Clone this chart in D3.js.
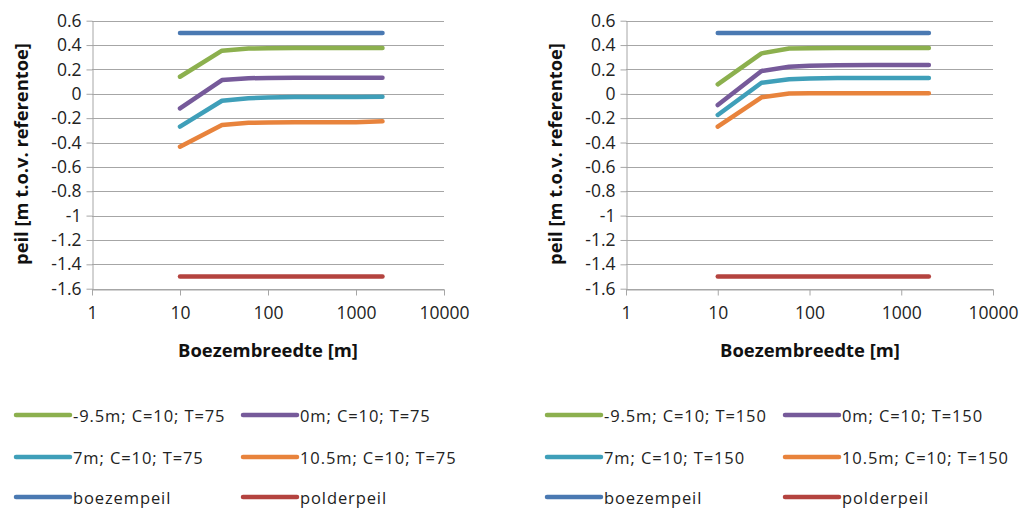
<!DOCTYPE html>
<html><head><meta charset="utf-8">
<script src="https://cdn.jsdelivr.net/npm/d3@7"></script>
<style>body{margin:0;background:#fff}svg{display:block}</style>
</head><body>
<svg id="c" width="1023" height="509"></svg>
<script>
const xValues = [10, 30, 60, 100, 200, 500, 1000, 2000];
const yTicks = [0.6, 0.4, 0.2, 0, -0.2, -0.4, -0.6, -0.8, -1, -1.2, -1.4, -1.6];
const xTicks = [1, 10, 100, 1000, 10000];
const seriesNames75 = ["-9.5m; C=10; T=75", "0m; C=10; T=75", "7m; C=10; T=75", "10.5m; C=10; T=75", "boezempeil", "polderpeil"];
const seriesNames150 = ["-9.5m; C=10; T=150", "0m; C=10; T=150", "7m; C=10; T=150", "10.5m; C=10; T=150", "boezempeil", "polderpeil"];
const colors = ["#8cb04e", "#765a9a", "#3f9fb9", "#e8833c", "#4a79b2", "#b4433f"];
// T=75
const green75  = [0.14, 0.354, 0.372, 0.374, 0.375, 0.375, 0.375, 0.375];
const purple75 = [-0.12, 0.113, 0.128, 0.13, 0.131, 0.131, 0.131, 0.131];
const cyan75   = [-0.27, -0.057, -0.036, -0.03, -0.027, -0.026, -0.026, -0.025];
const orange75 = [-0.434, -0.256, -0.238, -0.235, -0.234, -0.234, -0.233, -0.226];
// T=150
const green150  = [0.078, 0.332, 0.372, 0.374, 0.375, 0.375, 0.375, 0.375];
const purple150 = [-0.092, 0.187, 0.222, 0.23, 0.234, 0.236, 0.236, 0.236];
const cyan150   = [-0.174, 0.091, 0.119, 0.125, 0.129, 0.13, 0.13, 0.13];
const orange150 = [-0.27, -0.029, 0.003, 0.004, 0.005, 0.005, 0.005, 0.005];
const boezem = [0.5, 0.5, 0.5, 0.5, 0.5, 0.5, 0.5, 0.5];
const polder = [-1.5, -1.5, -1.5, -1.5, -1.5, -1.5, -1.5, -1.5];

const svg = d3.select("#c");
const font = "'Open Sans', 'Liberation Sans', Arial, sans-serif";

function fit(sel, target) {
  const w = sel.node().getComputedTextLength();
  const fs = parseFloat(sel.attr("font-size"));
  return fs * target / w;
}

function chart(cfg) {
  const x = d3.scaleLog().domain([1, 10000]).range([cfg.x0, cfg.x1]);
  const y = d3.scaleLinear().domain([-1.6, 0.6]).range([288.7, 20.7]);
  const g = svg.append("g");
  g.selectAll("line.grid").data(yTicks).enter().append("line")
    .attr("x1", cfg.x0).attr("x2", cfg.x1)
    .attr("y1", d => Math.round(y(d)) + 0.5).attr("y2", d => Math.round(y(d)) + 0.5)
    .attr("stroke", "#a6a6a6").attr("stroke-width", 1);
  const ya = g.append("g").attr("transform", `translate(${Math.round(cfg.x0) + 0.5},0)`)
    .call(d3.axisLeft(y).tickValues(yTicks).tickSize(6).tickSizeOuter(0).tickPadding(5)
      .tickFormat(d => String(+d.toFixed(1))));
  ya.select(".domain").attr("stroke", "#a6a6a6");
  ya.selectAll(".tick line").attr("stroke", "#a6a6a6");
  ya.selectAll(".tick text").attr("font-family", font).attr("font-size", 17.5).attr("fill", "#222");
  const xa = g.append("g").attr("transform", `translate(0,${Math.round(y(-1.6)) + 0.5})`)
    .call(d3.axisBottom(x).tickValues(xTicks).tickSize(6).tickSizeOuter(0).tickPadding(11)
      .tickFormat(d3.format("d")));
  xa.select(".domain").attr("stroke", "#a6a6a6");
  xa.selectAll(".tick line").attr("stroke", "#a6a6a6");
  xa.selectAll(".tick text").attr("font-family", font).attr("font-size", 17.5).attr("fill", "#222");
  const yt = g.append("text").attr("transform", `translate(${cfg.ytx},154) rotate(-90)`)
    .attr("text-anchor", "middle").attr("dominant-baseline", "central")
    .attr("font-family", font).attr("font-weight", "bold").attr("font-size", 15).attr("fill", "#111")
    .text("peil [m t.o.v. referentoe]");
  yt.attr("font-size", fit(yt, 222));
  const xt = g.append("text").attr("x", cfg.xtx).attr("y", 349)
    .attr("text-anchor", "middle").attr("dominant-baseline", "central")
    .attr("font-family", font).attr("font-weight", "bold").attr("font-size", 16).attr("fill", "#111")
    .text("Boezembreedte [m]");
  xt.attr("font-size", fit(xt, 180));
  const line = d3.line().x((d, i) => x(xValues[i])).y(d => y(d));
  [4, 0, 1, 2, 3, 5].forEach(k => {
    g.append("path").datum(cfg.series[k]).attr("d", line)
      .attr("fill", "none").attr("stroke", colors[k]).attr("stroke-width", 4.5)
      .attr("stroke-linecap", "round").attr("stroke-linejoin", "round");
  });
  const rows = [415, 457, 497];
  const cols = cfg.legCols;
  cfg.names.forEach((name, k) => {
    const r = Math.floor(k / 2), c = k % 2;
    const lx = cols[c];
    g.append("line").attr("x1", lx).attr("x2", lx + 54).attr("y1", rows[r]).attr("y2", rows[r])
      .attr("stroke", colors[k]).attr("stroke-width", 4.5).attr("stroke-linecap", "round");
    g.append("text").attr("x", lx + 57).attr("y", rows[r]).attr("dominant-baseline", "central")
      .attr("font-family", font).attr("font-size", 16.5).attr("letter-spacing", 0.9)
      .attr("fill", "#222").text(name);
  });
}

chart({x0: 92, x1: 444, ytx: 20, xtx: 268, legCols: [16, 243],
  names: seriesNames75, series: [green75, purple75, cyan75, orange75, boezem, polder]});
chart({x0: 626, x1: 993, ytx: 554, xtx: 810, legCols: [547, 785],
  names: seriesNames150, series: [green150, purple150, cyan150, orange150, boezem, polder]});
</script>
</body></html>
